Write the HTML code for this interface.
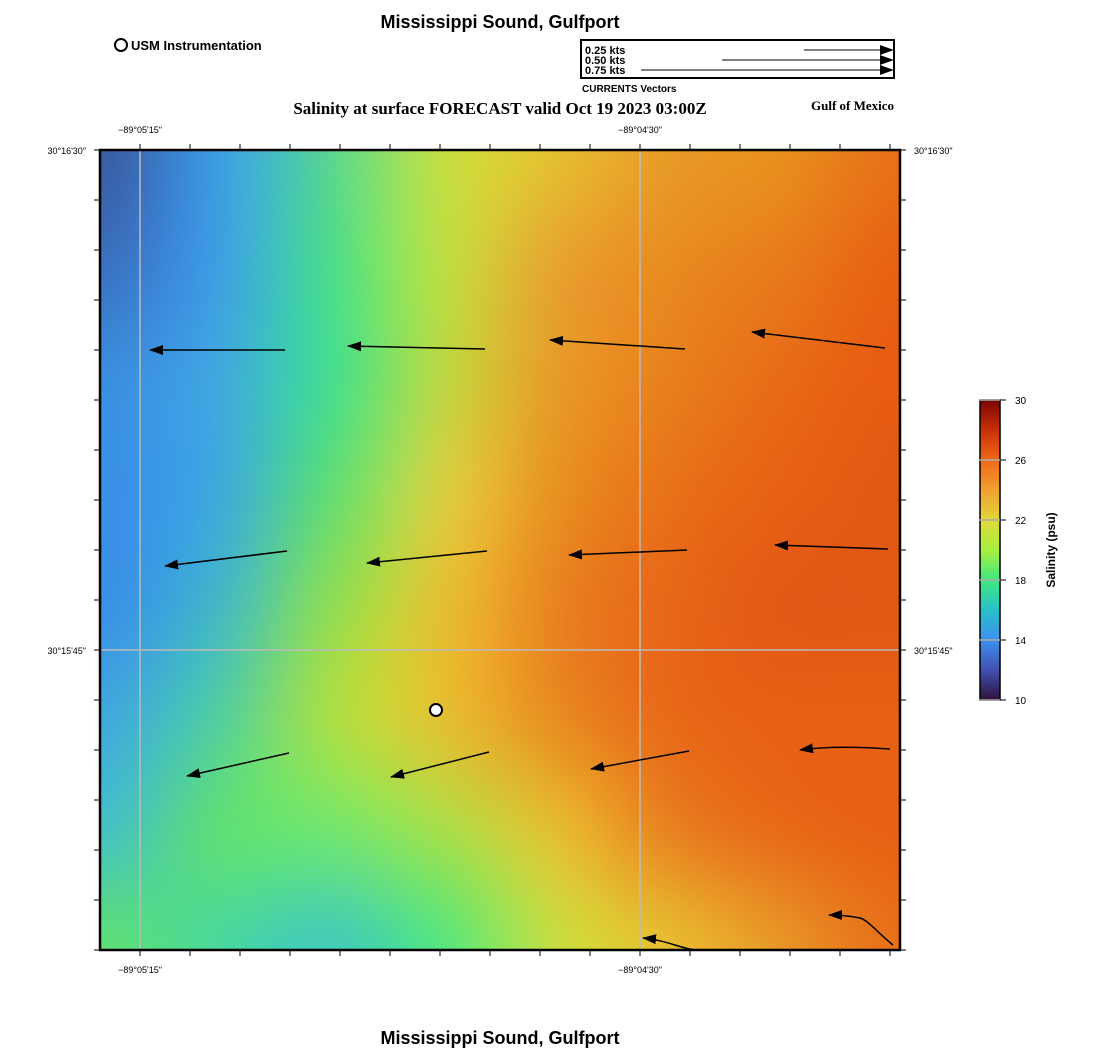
<!DOCTYPE html>
<html><head><meta charset="utf-8"><style>
body{margin:0;background:#fff;width:1100px;height:1050px;position:relative;overflow:hidden;font-family:"Liberation Sans",sans-serif}
.t{position:absolute;white-space:nowrap}
</style></head><body>
<div class="t" style="left:0;width:1000px;top:12px;text-align:center;font-weight:bold;font-size:18px">Mississippi Sound, Gulfport</div>
<div class="t" style="left:0;width:1000px;top:1028px;text-align:center;font-weight:bold;font-size:18px">Mississippi Sound, Gulfport</div>
<div class="t" style="left:114px;top:38px;font-weight:bold;font-size:13px"><span style="display:inline-block;width:10px;height:10px;border:2px solid #000;border-radius:50%;vertical-align:-2px;margin-right:3px"></span>USM Instrumentation</div>
<div class="t" style="left:0;width:1000px;top:99px;text-align:center;font-family:'Liberation Serif',serif;font-weight:bold;font-size:17px">Salinity at surface FORECAST valid Oct 19 2023 03:00Z</div>
<div class="t" style="left:811px;top:98px;font-family:'Liberation Serif',serif;font-weight:bold;font-size:13px">Gulf of Mexico</div>
<div class="t" style="left:582px;top:84px;font-weight:bold;font-size:10px">CURRENTS Vectors</div>
<canvas id="c" width="800" height="800" style="position:absolute;left:100px;top:150px;background:#e8a030"></canvas>
<svg width="1100" height="1050" style="position:absolute;left:0;top:0" font-family="Liberation Sans" font-size="9">
<defs><marker id="a" markerWidth="14" markerHeight="10" refX="13" refY="5" orient="auto" markerUnits="userSpaceOnUse"><path d="M0,0L14,5L0,10Z"/></marker></defs>
<rect x="581" y="40" width="313" height="38" fill="#fff" stroke="#000" stroke-width="2"/>
<g font-weight="bold" font-size="11"><text x="585" y="54">0.25 kts</text><text x="585" y="64">0.50 kts</text><text x="585" y="74">0.75 kts</text></g>
<g stroke="#000" stroke-width="1" marker-end="url(#a)"><line x1="804" y1="50" x2="893" y2="50"/><line x1="722" y1="60" x2="893" y2="60"/><line x1="641" y1="70" x2="893" y2="70"/></g>
<g stroke="#bbb" stroke-width="1.5"><line x1="140" y1="150" x2="140" y2="950"/><line x1="640" y1="150" x2="640" y2="950"/><line x1="100" y1="650" x2="900" y2="650"/></g>
<g fill="none" stroke="#000" stroke-width="1.5" marker-end="url(#a)">
<line x1="285" y1="350" x2="150" y2="350"/><line x1="485" y1="349" x2="348" y2="346"/><line x1="685" y1="349" x2="550" y2="340"/><line x1="885" y1="348" x2="752" y2="332"/>
<line x1="287" y1="551" x2="165" y2="566"/><line x1="487" y1="551" x2="367" y2="563"/><line x1="687" y1="550" x2="569" y2="555"/><line x1="888" y1="549" x2="775" y2="545"/>
<line x1="289" y1="753" x2="187" y2="776"/><line x1="489" y1="752" x2="391" y2="777"/><line x1="689" y1="751" x2="591" y2="769"/><path d="M890,749C860,747 830,746 800,750"/>
<path d="M695,950C680,948 665,940 643,938"/><path d="M893,945C880,935 868,920 860,918C850,916 840,915 829,915"/>
</g>
<circle cx="436" cy="710" r="6" fill="#fff" stroke="#000" stroke-width="2"/>
<rect x="100" y="150" width="800" height="800" fill="none" stroke="#000" stroke-width="2.5"/>
<g stroke="#000" stroke-width="1" id="tk"></g>
<g text-anchor="middle"><text x="140" y="133">−89°05'15"</text><text x="640" y="133">−89°04'30"</text><text x="140" y="973">−89°05'15"</text><text x="640" y="973">−89°04'30"</text></g>
<g text-anchor="end"><text x="86" y="154">30°16'30"</text><text x="86" y="654">30°15'45"</text></g>
<text x="914" y="154">30°16'30"</text><text x="914" y="654">30°15'45"</text>
<defs><linearGradient id="cb" x1="0" y1="1" x2="0" y2="0">
<stop offset="0" stop-color="#30123b"/><stop offset="0.1" stop-color="#4050b0"/><stop offset="0.2" stop-color="#3e90f0"/><stop offset="0.3" stop-color="#28c0c8"/><stop offset="0.4" stop-color="#40e880"/><stop offset="0.5" stop-color="#a8f040"/><stop offset="0.6" stop-color="#e0d838"/><stop offset="0.7" stop-color="#f0a030"/><stop offset="0.8" stop-color="#f06818"/><stop offset="0.9" stop-color="#c83008"/><stop offset="1" stop-color="#7a0403"/></linearGradient></defs>
<rect x="980" y="400" width="20" height="300" fill="url(#cb)" stroke="#000" stroke-width="1.5"/>
<g stroke="#aaa" stroke-width="1.5"><line x1="979" y1="400" x2="1001" y2="400"/><line x1="979" y1="460" x2="1001" y2="460"/><line x1="979" y1="520" x2="1001" y2="520"/><line x1="979" y1="580" x2="1001" y2="580"/><line x1="979" y1="640" x2="1001" y2="640"/><line x1="979" y1="700" x2="1001" y2="700"/></g>
<g stroke="#000"><line x1="1000" y1="400" x2="1006" y2="400"/><line x1="1000" y1="460" x2="1006" y2="460"/><line x1="1000" y1="520" x2="1006" y2="520"/><line x1="1000" y1="580" x2="1006" y2="580"/><line x1="1000" y1="640" x2="1006" y2="640"/><line x1="1000" y1="700" x2="1006" y2="700"/></g>
<g font-size="10"><text x="1015" y="404">30</text><text x="1015" y="464">26</text><text x="1015" y="524">22</text><text x="1015" y="584">18</text><text x="1015" y="644">14</text><text x="1015" y="704">10</text></g>
<text transform="translate(1055,550) rotate(-90)" text-anchor="middle" font-weight="bold" font-size="12">Salinity (psu)</text>
</svg>
<script>
var tk=document.getElementById('tk'),s='';
for(var v=140;v<900;v+=50){s+='<line x1="'+v+'" y1="150" x2="'+v+'" y2="144"/><line x1="'+v+'" y1="950" x2="'+v+'" y2="956"/>';}
for(var v=150;v<=950;v+=50){s+='<line x1="100" y1="'+v+'" x2="94" y2="'+v+'"/><line x1="900" y1="'+v+'" x2="906" y2="'+v+'"/>';}
tk.innerHTML=s;
var g=[
"3a5aa0 3c9ee8 58d890 c8e040 e6c030 e89a28 e8901e e87018",
"3a70c0 3d9ee8 48e08a c0e040 e8a030 e88a20 e87a1a e86012",
"3a8ee0 40a8e0 40e090 c0d840 e89a28 e8801c e86a16 e85a12",
"3a8ee8 3ca8e0 60e070 e0d040 e89020 e87018 e86014 e05812",
"3a8ee8 40b8c8 90e050 e8c030 e88020 e86618 e05814 e05812",
"40a8e0 50d0a0 b0e040 e8c030 e88a20 e86818 e86014 e86014",
"44c0c8 60e070 70e870 a8e048 e8c030 e88020 e86818 e86014",
"60e070 48d8a0 40c8c0 50e880 c8e040 e8c030 e89828 e87018"];
var t=document.createElement('canvas');t.width=8;t.height=8;var x=t.getContext('2d'),d=x.createImageData(8,8);
for(var r=0;r<8;r++){var a=g[r].split(' ');for(var c=0;c<8;c++){var h=a[c],i=(r*8+c)*4;d.data[i]=parseInt(h.substr(0,2),16);d.data[i+1]=parseInt(h.substr(2,2),16);d.data[i+2]=parseInt(h.substr(4,2),16);d.data[i+3]=255;}}
x.putImageData(d,0,0);
var cx=document.getElementById('c').getContext('2d');cx.imageSmoothingEnabled=true;cx.imageSmoothingQuality='high';
cx.drawImage(t,0,0,8,8,-50,-50,900,900);
</script>
</body></html>
